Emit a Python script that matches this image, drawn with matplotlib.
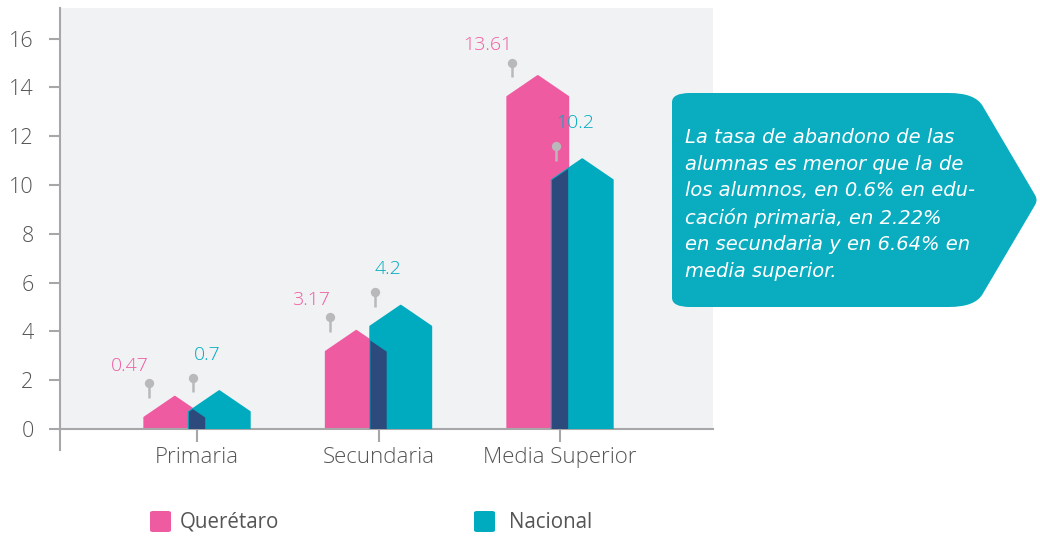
import matplotlib

matplotlib.use("Agg")
import matplotlib.pyplot as plt
import numpy as np
from matplotlib.patches import Polygon, PathPatch, FancyBboxPatch
from matplotlib.path import Path

categories = ["Primaria", "Secundaria", "Media Superior"]
queretaro = [0.47, 3.17, 13.61]
nacional = [0.7, 4.2, 10.2]
series = ["Querétaro", "Nacional"]
yticks = [0, 2, 4, 6, 8, 10, 12, 14, 16]
note = (
    "La tasa de abandono de las\n"
    "alumnas es menor que la de\n"
    "los alumnos, en 0.6% en edu-\n"
    "cación primaria, en 2.22%\n"
    "en secundaria y en 6.64% en\n"
    "media superior."
)

PINK = "#ef5ba1"
TEAL = "#00abbf"
NAVY = "#2c4a7c"
GRAY = "#a7a7aa"
PIN = "#b9b9bc"
TXT = "#555555"
W, H = 1040, 536

plt.rcParams["font.family"] = ["Open Sans", "DejaVu Sans"]


def house(x0, w, h, roof=0.85):
    return [(x0, 0), (x0, h), (x0 + w / 2, h + roof), (x0 + w, h), (x0 + w, 0)]


def rounded_path(pts, radii):
    # polygon with rounded corners, quadratic curves at each vertex
    pts = np.asarray(pts, float)
    n = len(pts)
    verts, codes = [], []
    for i in range(n):
        p, prev, nxt = pts[i], pts[i - 1], pts[(i + 1) % n]
        r = radii[i]
        a = p + (prev - p) / np.linalg.norm(prev - p) * r
        b = p + (nxt - p) / np.linalg.norm(nxt - p) * r
        verts += [a, p, b]
        codes += [Path.MOVETO if i == 0 else Path.LINETO, Path.CURVE3, Path.CURVE3]
    verts.append(verts[0])
    codes.append(Path.CLOSEPOLY)
    return Path(verts, codes)


def px(x, y):
    return x / W, 1 - y / H


fig = plt.figure(figsize=(W / 100, H / 100), dpi=100)
ax = fig.add_axes([60 / W, 1 - 429 / H, (713 - 60) / W, (429 - 8) / H])
ax.set_facecolor("#f1f2f4")
ax.set_xlim(-0.755, 2.843)
ax.set_ylim(0, 17.25)

bw = 0.335
for i, (q, n) in enumerate(zip(queretaro, nacional)):
    qp = Polygon(house(i - 0.29, bw, q), closed=True, fc=PINK, ec=PINK,
                 lw=1.5, joinstyle="round", zorder=2)
    npoly = Polygon(house(i - 0.045, bw, n), closed=True, fc=TEAL, ec=TEAL,
                    lw=1.5, joinstyle="round", zorder=3)
    ax.add_patch(qp)
    ax.add_patch(npoly)
    ov = Polygon(house(i - 0.045, bw, n), closed=True, fc=NAVY, lw=0, zorder=4)
    ax.add_patch(ov)
    ov.set_clip_path(qp)

    # pins with value labels
    for x, v, col, ha, dy in [(i - 0.265, q, PINK, "right", 6),
                              (i - 0.02, n, TEAL, "left", 10)]:
        top = v + 1.4
        ax.plot([x, x], [top - 0.6, top], color=PIN, lw=1.8, zorder=5,
                solid_capstyle="butt")
        ax.scatter([x], [top], s=45, color=PIN, zorder=6, lw=0)
        ax.annotate(f"{v:g}", (x, top), xytext=(0, dy), textcoords="offset points",
                    ha=ha, va="bottom", color=col, fontsize=14, fontweight="light")

ax.set_xticks(range(len(categories)))
ax.set_xticklabels(categories, fontweight="light")
ax.set_yticks(yticks)
ax.set_yticklabels([str(t) for t in yticks], fontweight="light")
for s in ["top", "right"]:
    ax.spines[s].set_visible(False)
for s in ["left", "bottom"]:
    ax.spines[s].set_color(GRAY)
    ax.spines[s].set_linewidth(1.5)
ax.plot([0, 0], [0, -0.05], transform=ax.transAxes, color=GRAY, lw=1.5,
        clip_on=False)
ax.tick_params(axis="y", length=8, width=1.5, color=GRAY, pad=11,
               labelsize=15.5, labelcolor=TXT)
ax.tick_params(axis="x", length=9, width=1.5, color=GRAY, pad=4,
               labelsize=16, labelcolor=TXT)

# callout box
box = rounded_path(
    [px(672, 93), px(975, 93), px(1038, 200), px(975, 307), px(672, 307)],
    [18 / W, 26 / W, 10 / W, 26 / W, 18 / W],
)
fig.add_artist(PathPatch(box, transform=fig.transFigure, fc="#00a9be",
                         ec="none", alpha=0.96))
fig.text(*px(685, 128), note, color="white", fontsize=14, style="italic",
         family="DejaVu Sans", ha="left", va="top", linespacing=1.5)

# legend
for (x0, tx), name, col in zip([(150, 180), (474, 509)], series, [PINK, TEAL]):
    fig.add_artist(FancyBboxPatch(px(x0, 532), 21 / W, 21 / H,
                                  boxstyle="round,pad=0,rounding_size=0.003",
                                  transform=fig.transFigure, fc=col, ec="none"))
    fig.text(*px(tx, 522), name, color=TXT, fontsize=14.8, ha="left", va="center")

fig.savefig("out.png", dpi=100)
